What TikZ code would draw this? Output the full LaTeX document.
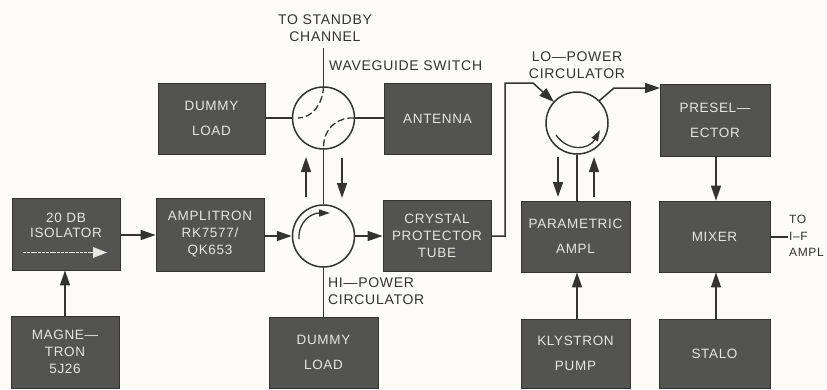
\documentclass[tikz,border=0pt]{standalone}
\usepackage{fontspec}
\setmainfont[LetterSpace=5]{Liberation Sans}
\usetikzlibrary{arrows.meta}
\definecolor{paper}{HTML}{FCFBF7}
\definecolor{boxfill}{HTML}{535351}
\definecolor{boxtext}{HTML}{E6E6E0}
\definecolor{ink}{HTML}{333331}
\tikzset{
  blockbox/.style={draw=ink,fill=boxfill,text=boxtext,line width=0.8pt,inner sep=0pt,align=center,
    font=\fontsize{13.5}{17}\selectfont},
  circ/.style={circle,draw=ink,line width=1.5pt,minimum size=62pt,inner sep=0pt},
  wire/.style={draw=ink,line width=1.5pt},
  midflow/.style={wire,-{Triangle[length=15pt,width=10pt]}},
  swirl/.style={draw=ink,line width=1.3pt,-{Triangle[length=11pt,width=7pt]}},
  swdash/.style={draw=ink,line width=1.3pt,dash pattern=on 7pt off 3pt},
  lab/.style={text=ink,align=center,inner sep=0pt,font=\fontsize{14}{16.5}\selectfont},
}
\newcommand{\bx}[6]{\node[blockbox,minimum width=#4pt-#2pt,minimum height=#5pt-#3pt] (#1) at ({(#2+#4)/2},{(#3+#5)/2}) {#6};}
\begin{document}
\begin{tikzpicture}[x=1pt,y=-1pt]
\fill[paper] (0,0) rectangle (827,389);
\useasboundingbox (0,0) rectangle (827,389);
% blocks
\bx{iso}{12}{198}{120}{270}{20 DB\\[-2pt]ISOLATOR\\[0pt]\mbox{}}
\bx{amp}{156}{198}{264}{271}{AMPLITRON\\RK7577/\\QK653}
\bx{mag}{11}{316}{119}{388}{MAGNE—\\TRON\\5J26}
\bx{dl}{269}{317}{378}{388}{DUMMY\\[8pt]LOAD}
\bx{cry}{383}{200}{491}{271}{CRYSTAL\\PROTECTOR\\TUBE}
\bx{ant}{384}{83}{491}{154}{ANTENNA}
\bx{du}{158}{83}{265}{154}{DUMMY\\[8pt]LOAD}
\bx{par}{521}{201}{630}{272}{PARAMETRIC\\[8pt]AMPL}
\bx{mix}{659}{201}{770}{272}{MIXER}
\bx{pre}{660}{84}{770}{156}{PRESEL—\\[8pt]ECTOR}
\bx{kly}{521}{319}{630}{388}{KLYSTRON\\[8pt]PUMP}
\bx{sta}{659}{319}{770}{388}{STALO}
% circulators and switch
\node[circ] (sw) at (323.5,118) {};
\node[circ] (hi) at (323.5,236) {};
\node[circ] (lo) at (577,123) {};
% free ends
\coordinate (stby) at (323.5,48);
\coordinate (upA) at (306,197);
\coordinate (upB) at (306,157);
\coordinate (dnA) at (342,158);
\coordinate (dnB) at (342,198);
\coordinate (c1) at (505,236);
\coordinate (c2) at (505,83);
\coordinate (c3) at (533,83);
\coordinate (c4) at (554,102);
\coordinate (o1) at (599,101);
\coordinate (o2) at (614,88);
\coordinate (o3) at (660,88);
\coordinate (ldA) at (558,157);
\coordinate (ldB) at (558,197);
\coordinate (luA) at (594,197);
\coordinate (luB) at (594,157);
\coordinate (ifo) at (788,237);
% connectors
\path[wire] (stby) -- (sw.north);
\path[wire] (du.east |- sw.west) -- (sw.west);
\path[wire] (sw.east) -- (ant.west |- sw.east);
\path[wire] (sw.south) -- (hi.north);
\path[wire] (hi.south) -- (dl.north -| hi.south);
\path[midflow] (upA) -- (upB);
\path[midflow] (dnA) -- (dnB);
\path[midflow] (iso.east |- 0,235) -- (amp.west |- 0,235);
\path[midflow] (amp.east |- hi.west) -- (hi.west);
\path[midflow] (hi.east) -- (cry.west |- hi.east);
\path[midflow] (mag.north -| 65,0) -- (iso.south -| 65,0);
\path[midflow,line join=miter] (cry.east |- c1) -- (c1) -- (c2) -- (c3) -- (c4);
\path[midflow,line join=miter] (o1) -- (o2) -- (o3);
\path[wire] (lo.south) -- (par.north -| lo.south);
\path[midflow] (ldA) -- (ldB);
\path[midflow] (luA) -- (luB);
\path[midflow] (pre.south -| 716,0) -- (mix.north -| 716,0);
\path[midflow] (kly.north -| 577,0) -- (par.south -| 577,0);
\path[midflow] (sta.north -| 716,0) -- (mix.south -| 716,0);
\path[wire] (mix.east |- ifo) -- (ifo);
% inner details
\path[swdash] (sw.north) .. controls (323,104) and (312,118) .. (298,118);
\path[swdash] (sw.east) ++(-1,0) .. controls (340,117) and (324,126) .. (323.5,147);
\path[swirl] (299,239) .. controls (298,222) and (311,213) .. (330,213);
\path[swirl] (556,135) .. controls (568,152) and (589,150) .. (600,130);
\draw[draw=boxtext,line width=1.6pt,dash pattern=on 3pt off 0.8pt] (23,252.5) -- (95,252.5);
\fill[boxtext] (93,247) -- (107,252.5) -- (93,258) -- cycle;
% labels
\node[lab] (tstby) at (325,28) {TO STANDBY\\CHANNEL};
\node[lab,anchor=west] (twg) at (329,66) {WAVEGUIDE SWITCH};
\node[lab,anchor=west,align=left] (thi) at (328,291) {HI—POWER\\CIRCULATOR};
\node[lab] (tlo) at (577,65) {LO—POWER\\CIRCULATOR};
\node[lab,anchor=west,align=left,font=\fontsize{12}{16.5}\selectfont] (tif) at (789,236) {TO\\I–F\\AMPL};
\end{tikzpicture}
\end{document}
